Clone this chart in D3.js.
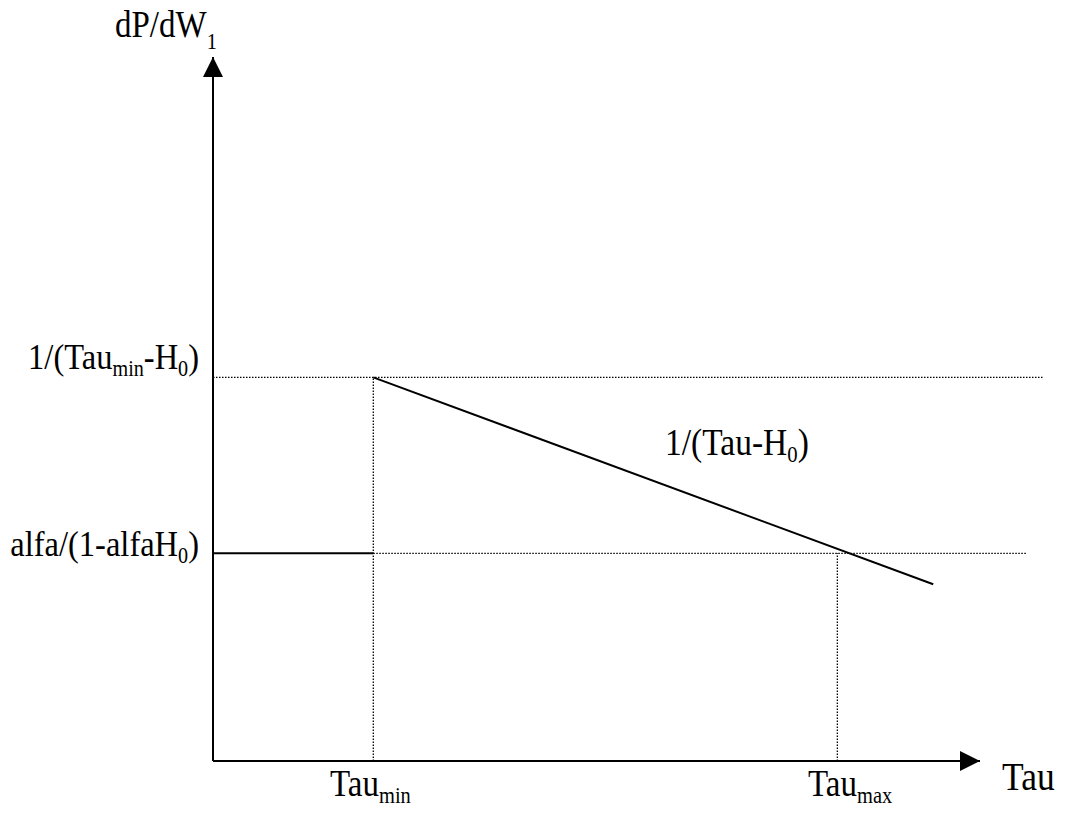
<!DOCTYPE html>
<html>
<head>
<meta charset="utf-8">
<script src="https://cdn.jsdelivr.net/npm/d3@7"></script>
<style>
  html, body { margin: 0; padding: 0; background: #fff; }
  svg { display: block; }
  text { font-family: "Liberation Serif", "Times New Roman", serif; fill: #000; }
</style>
</head>
<body>
<svg id="chart" width="1065" height="817"></svg>
<script>
// ---- data (abstract units) ----
const xAxisMax = 100;          // x-axis arrow tip
const yAxisMax = 100;          // y-axis arrow tip
const tauMin = 20.9;
const tauMax = 81.4;
const levelHigh = 54.5;        // 1/(Tau_min - H0)
const levelLow = 29.5;         // alfa/(1 - alfa H0)
const curveX = [20.9, 93.9];   // 1/(Tau - H0) line
const curveY = [54.5, 25.1];
const highGuideEnd = 108.2;
const lowGuideEnd = 106.1;
// labels: alternating [main, sub, main, sub, ...]
const yLabelHigh = ["1/(Tau", "min", "-H", "0", ")"];
const yLabelLow = ["alfa/(1-alfaH", "0", ")"];
const curveLabel = ["1/(Tau-H", "0", ")"];
const xTickLabels = [["Tau", "min"], ["Tau", "max"]];
const xAxisTitle = "Tau";
const yAxisTitle = ["dP/dW", "1"];

const svg = d3.select("#chart");
const x = d3.scaleLinear().domain([0, xAxisMax]).range([213, 980]);
const y = d3.scaleLinear().domain([0, yAxisMax]).range([761, 57]);

const defs = svg.append("defs");
defs.append("marker").attr("id", "arrow")
  .attr("viewBox", "0 0 20 20").attr("refX", 20).attr("refY", 10)
  .attr("markerWidth", 20).attr("markerHeight", 20)
  .attr("markerUnits", "userSpaceOnUse").attr("orient", "auto")
  .append("path").attr("d", "M0,0 L20,10 L0,20 Z").attr("fill", "#000");

const line = d3.line().x(d => x(d[0])).y(d => y(d[1]));

// dotted guides
const dotted = [
  [[0, levelHigh], [highGuideEnd, levelHigh]],
  [[tauMin, levelLow], [lowGuideEnd, levelLow]],
  [[tauMin, 0], [tauMin, levelHigh]],
  [[tauMax, 0], [tauMax, levelLow]]
];
svg.selectAll("path.dot").data(dotted).join("path").attr("class", "dot")
  .attr("d", line).attr("fill", "none").attr("stroke", "#000")
  .attr("stroke-width", 1.3).attr("stroke-dasharray", "1.5,1.5");

// solid segments
svg.append("path").attr("d", line([[0, levelLow], [tauMin, levelLow]]))
  .attr("stroke", "#000").attr("stroke-width", 2).attr("fill", "none");
svg.append("path").attr("d", line(curveX.map((v, i) => [v, curveY[i]])))
  .attr("stroke", "#000").attr("stroke-width", 2).attr("fill", "none");

// axes
svg.append("path").attr("d", line([[0, 0], [xAxisMax, 0]]))
  .attr("stroke", "#000").attr("stroke-width", 2).attr("marker-end", "url(#arrow)");
svg.append("path").attr("d", line([[0, 0], [0, yAxisMax]]))
  .attr("stroke", "#000").attr("stroke-width", 2).attr("marker-end", "url(#arrow)");

// rich text helper: alternating main/sub parts, slightly stretched vertically
function rich(parts, px, py, anchor, subShift, size) {
  const fs = size || 33;
  const t = svg.append("text")
    .attr("transform", `translate(${px},${py}) scale(1,1.12)`)
    .attr("font-size", fs).attr("text-anchor", anchor || "start");
  let shifted = false;
  parts.forEach((p, i) => {
    const isSub = i % 2 === 1;
    const ts = t.append("tspan").text(p);
    if (isSub) { ts.attr("font-size", fs * 0.62).attr("dy", subShift); shifted = true; }
    else if (shifted) { ts.attr("dy", -subShift); shifted = false; }
  });
  return t;
}

rich(yAxisTitle, 115, 37, "start", 11, 33);
rich([xAxisTitle], 1002, 790, "start", 0, 35.5);
rich(yLabelHigh, 199, 369, "end", 6.5, 32.5);
rich(yLabelLow, 199, 556, "end", 6.5, 32.5);
rich(curveLabel, 665, 455, "start", 6.5, 33.5);
rich(xTickLabels[0], 330, 796, "start", 6.5, 33);
rich(xTickLabels[1], 808, 796, "start", 6.5, 33);
</script>
</body>
</html>
